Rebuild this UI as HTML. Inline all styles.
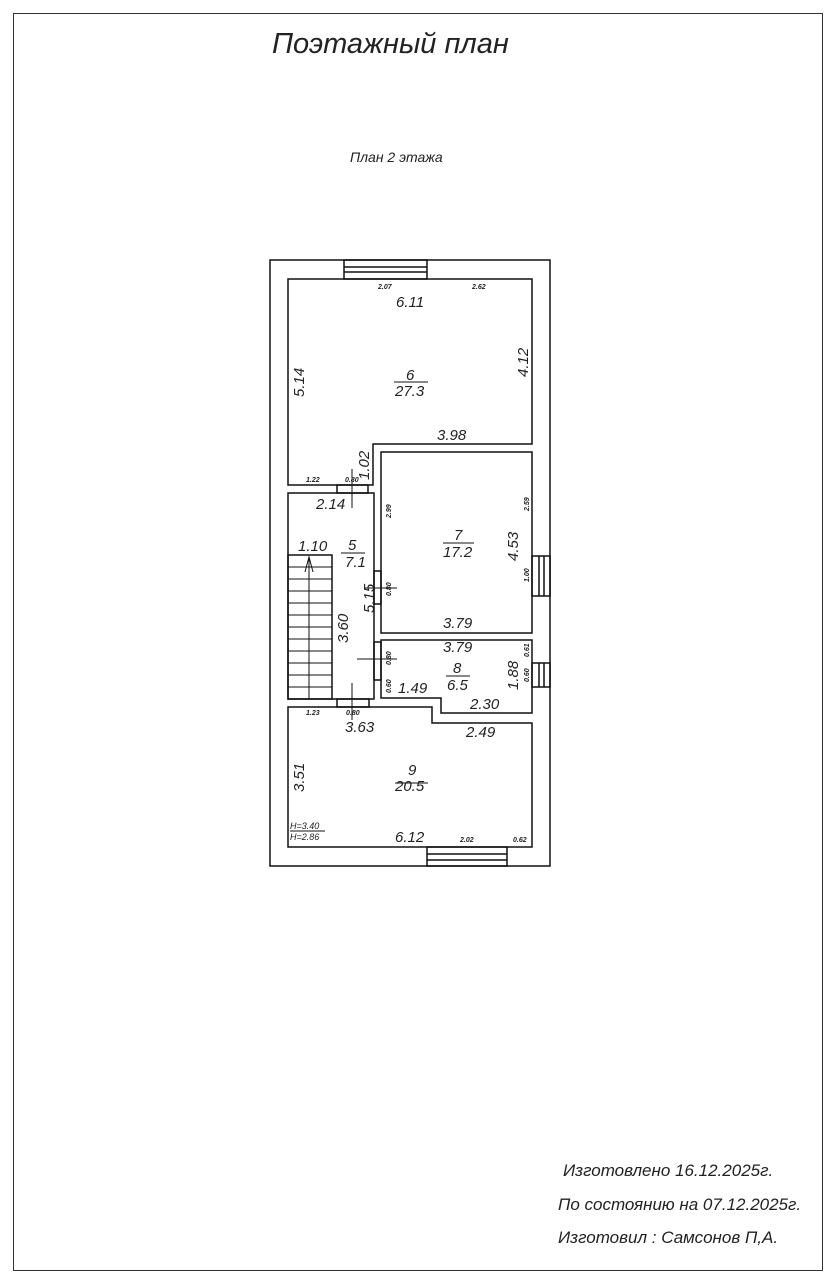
<!DOCTYPE html>
<html><head><meta charset="utf-8"><style>
html,body{margin:0;padding:0;background:#fff;}
svg{display:block}
text{font-family:"Liberation Sans","DejaVu Sans",sans-serif;font-style:italic;fill:#222}
.b{font-size:15px}
.s{font-size:7px;font-weight:bold}
</style></head><body>
<svg width="830" height="1280" viewBox="0 0 830 1280" xmlns="http://www.w3.org/2000/svg">
<rect x="13.5" y="13.5" width="809" height="1257" fill="none" stroke="#333" stroke-width="1"/>
<text x="272" y="53" style="font-size:29px;font-weight:300" fill="#333">Поэтажный план</text>
<text x="350" y="162" style="font-size:14px">План 2 этажа</text>
<g fill="none" stroke="#111" stroke-width="1.5">
<rect x="270" y="260" width="280" height="606"/>
<polygon points="288,279 532,279 532,444 373,444 373,485 288,485"/>
<rect x="381" y="452" width="151" height="181"/>
<rect x="288" y="493" width="86" height="206"/>
<polygon points="381,640 532,640 532,713 441,713 441,698 381,698"/>
<polygon points="288,707 432,707 432,723 532,723 532,847 288,847"/>
<rect x="344" y="260" width="83" height="19"/>
<line x1="344" y1="267" x2="427" y2="267"/><line x1="344" y1="272" x2="427" y2="272"/>
<rect x="427" y="847" width="80" height="19"/>
<line x1="427" y1="854" x2="507" y2="854"/><line x1="427" y1="860" x2="507" y2="860"/>
<rect x="532" y="556" width="18" height="40"/>
<line x1="539" y1="556" x2="539" y2="596"/><line x1="544" y1="556" x2="544" y2="596"/>
<rect x="532" y="663" width="18" height="24"/>
<line x1="539" y1="663" x2="539" y2="687"/><line x1="544" y1="663" x2="544" y2="687"/>
<rect x="337" y="485" width="31" height="8"/>
<rect x="337" y="699" width="32" height="8"/>
<rect x="374" y="571" width="7" height="33"/>
<rect x="374" y="642" width="7" height="38"/>
<rect x="288" y="555" width="44" height="144"/>
</g>
<g stroke="#111" stroke-width="1">
<line x1="352" y1="469" x2="352" y2="508"/>
<line x1="352" y1="683" x2="352" y2="720"/>
<line x1="365" y1="588" x2="397" y2="588"/>
<line x1="357" y1="659" x2="397" y2="659"/>
<line x1="309" y1="557" x2="309" y2="699"/>
<polyline points="305,572 309,557 313,572" fill="none"/>
<line x1="288" y1="567" x2="332" y2="567"/><line x1="288" y1="579" x2="332" y2="579"/>
<line x1="288" y1="591" x2="332" y2="591"/><line x1="288" y1="603" x2="332" y2="603"/>
<line x1="288" y1="615" x2="332" y2="615"/><line x1="288" y1="627" x2="332" y2="627"/>
<line x1="288" y1="639" x2="332" y2="639"/><line x1="288" y1="651" x2="332" y2="651"/>
<line x1="288" y1="663" x2="332" y2="663"/><line x1="288" y1="675" x2="332" y2="675"/>
<line x1="288" y1="687" x2="332" y2="687"/>
<line x1="394" y1="382" x2="428" y2="382"/>
<line x1="443" y1="543" x2="474" y2="543"/>
<line x1="341" y1="553" x2="365" y2="553"/>
<line x1="446" y1="676" x2="470" y2="676"/>
<line x1="395" y1="783" x2="428" y2="783"/>
<line x1="290" y1="831" x2="325" y2="831"/>
</g>
<text class="b" x="396" y="307">6.11</text>
<text class="s" x="378" y="289">2.07</text>
<text class="s" x="472" y="289">2.62</text>
<text class="b" x="406" y="380">6</text>
<text class="b" x="395" y="396">27.3</text>
<text class="b" transform="translate(304,397) rotate(-90)">5.14</text>
<text class="b" transform="translate(528,377) rotate(-90)">4.12</text>
<text class="b" x="437" y="440">3.98</text>
<text class="b" transform="translate(369,480) rotate(-90)">1.02</text>
<text class="s" x="306" y="482">1.22</text>
<text class="s" x="345" y="482">0.80</text>
<text class="b" x="316" y="509">2.14</text>
<text class="s" transform="translate(391,518) rotate(-90)">2.99</text>
<text class="s" transform="translate(529,511) rotate(-90)">2.59</text>
<text class="b" x="454" y="540">7</text>
<text class="b" x="443" y="557">17.2</text>
<text class="b" transform="translate(518,561) rotate(-90)">4.53</text>
<text class="s" transform="translate(529,582) rotate(-90)">1.00</text>
<text class="b" x="298" y="551">1.10</text>
<text class="b" x="348" y="550">5</text>
<text class="b" x="345" y="567">7.1</text>
<text class="b" transform="translate(374,613) rotate(-90)">5.15</text>
<text class="s" transform="translate(391,596) rotate(-90)">0.80</text>
<text class="b" x="443" y="628">3.79</text>
<text class="b" transform="translate(348,643) rotate(-90)">3.60</text>
<text class="b" x="443" y="652">3.79</text>
<text class="s" transform="translate(391,665) rotate(-90)">0.80</text>
<text class="s" transform="translate(529,657) rotate(-90)">0.61</text>
<text class="s" transform="translate(529,682) rotate(-90)">0.60</text>
<text class="b" x="453" y="673">8</text>
<text class="b" x="447" y="690">6.5</text>
<text class="b" transform="translate(518,690) rotate(-90)">1.88</text>
<text class="s" transform="translate(391,693) rotate(-90)">0.60</text>
<text class="b" x="398" y="693">1.49</text>
<text class="b" x="470" y="709">2.30</text>
<text class="s" x="306" y="715">1.23</text>
<text class="s" x="346" y="715">0.80</text>
<text class="b" x="345" y="732">3.63</text>
<text class="b" x="466" y="737">2.49</text>
<text class="b" transform="translate(304,792) rotate(-90)">3.51</text>
<text class="b" x="408" y="775">9</text>
<text class="b" x="395" y="791">20.5</text>
<text x="290" y="829" style="font-size:9px">H=3.40</text>
<text x="290" y="840" style="font-size:9px">H=2.86</text>
<text class="b" x="395" y="842">6.12</text>
<text class="s" x="460" y="842">2.02</text>
<text class="s" x="513" y="842">0.62</text>
<text x="563" y="1176" style="font-size:17px">Изготовлено 16.12.2025г.</text>
<text x="558" y="1210" style="font-size:17px">По состоянию на 07.12.2025г.</text>
<text x="558" y="1243" style="font-size:17px">Изготовил : Самсонов П,А.</text>
</svg>
</body></html>
